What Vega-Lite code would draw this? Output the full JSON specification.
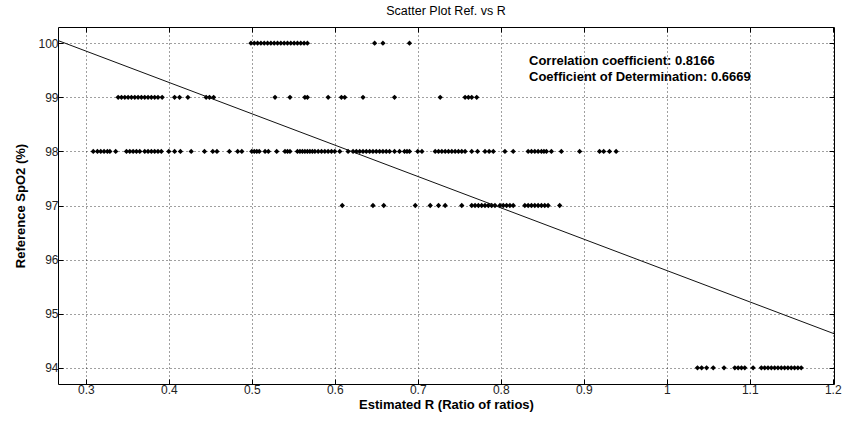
{
  "$schema": "https://vega.github.io/schema/vega-lite/v6.json",
  "width": 776,
  "height": 357,
  "autosize": {"type": "none"},
  "padding": {"left": 58, "top": 27, "right": 9, "bottom": 40},
  "background": "white",
  "title": {
    "text": "Scatter Plot Ref. vs R",
    "fontSize": 12.5,
    "fontWeight": "normal",
    "font": "Liberation Sans",
    "color": "#000",
    "offset": 9,
    "anchor": "middle"
  },
  "config": {
    "view": {"stroke": "#000", "strokeWidth": 1},
    "font": "Liberation Sans"
  },
  "datasets": {
    "points": [
      {"r": 0.499, "spo2": 100}, {"r": 0.503, "spo2": 100}, {"r": 0.507, "spo2": 100}, {"r": 0.511, "spo2": 100},
      {"r": 0.515, "spo2": 100}, {"r": 0.519, "spo2": 100}, {"r": 0.523, "spo2": 100}, {"r": 0.527, "spo2": 100},
      {"r": 0.531, "spo2": 100}, {"r": 0.535, "spo2": 100}, {"r": 0.539, "spo2": 100}, {"r": 0.543, "spo2": 100},
      {"r": 0.547, "spo2": 100}, {"r": 0.551, "spo2": 100}, {"r": 0.555, "spo2": 100}, {"r": 0.559, "spo2": 100},
      {"r": 0.563, "spo2": 100}, {"r": 0.567, "spo2": 100}, {"r": 0.648, "spo2": 100}, {"r": 0.658, "spo2": 100},
      {"r": 0.690, "spo2": 100},

      {"r": 0.339, "spo2": 99}, {"r": 0.343, "spo2": 99}, {"r": 0.347, "spo2": 99}, {"r": 0.351, "spo2": 99},
      {"r": 0.355, "spo2": 99}, {"r": 0.359, "spo2": 99}, {"r": 0.363, "spo2": 99}, {"r": 0.367, "spo2": 99},
      {"r": 0.371, "spo2": 99}, {"r": 0.375, "spo2": 99}, {"r": 0.379, "spo2": 99}, {"r": 0.383, "spo2": 99},
      {"r": 0.387, "spo2": 99}, {"r": 0.392, "spo2": 99}, {"r": 0.407, "spo2": 99}, {"r": 0.413, "spo2": 99},
      {"r": 0.423, "spo2": 99}, {"r": 0.445, "spo2": 99}, {"r": 0.449, "spo2": 99}, {"r": 0.454, "spo2": 99},
      {"r": 0.528, "spo2": 99}, {"r": 0.546, "spo2": 99}, {"r": 0.564, "spo2": 99}, {"r": 0.567, "spo2": 99},
      {"r": 0.592, "spo2": 99}, {"r": 0.608, "spo2": 99}, {"r": 0.612, "spo2": 99}, {"r": 0.634, "spo2": 99},
      {"r": 0.672, "spo2": 99}, {"r": 0.727, "spo2": 99}, {"r": 0.757, "spo2": 99}, {"r": 0.761, "spo2": 99},
      {"r": 0.765, "spo2": 99}, {"r": 0.771, "spo2": 99},

      {"r": 0.309, "spo2": 98}, {"r": 0.314, "spo2": 98}, {"r": 0.318, "spo2": 98}, {"r": 0.322, "spo2": 98},
      {"r": 0.326, "spo2": 98}, {"r": 0.329, "spo2": 98}, {"r": 0.336, "spo2": 98}, {"r": 0.349, "spo2": 98},
      {"r": 0.353, "spo2": 98}, {"r": 0.357, "spo2": 98}, {"r": 0.361, "spo2": 98}, {"r": 0.365, "spo2": 98},
      {"r": 0.371, "spo2": 98}, {"r": 0.375, "spo2": 98}, {"r": 0.379, "spo2": 98}, {"r": 0.383, "spo2": 98},
      {"r": 0.387, "spo2": 98}, {"r": 0.391, "spo2": 98}, {"r": 0.400, "spo2": 98}, {"r": 0.407, "spo2": 98},
      {"r": 0.414, "spo2": 98}, {"r": 0.427, "spo2": 98}, {"r": 0.443, "spo2": 98}, {"r": 0.453, "spo2": 98},
      {"r": 0.458, "spo2": 98}, {"r": 0.473, "spo2": 98}, {"r": 0.483, "spo2": 98}, {"r": 0.488, "spo2": 98},
      {"r": 0.500, "spo2": 98}, {"r": 0.503, "spo2": 98}, {"r": 0.506, "spo2": 98}, {"r": 0.509, "spo2": 98},
      {"r": 0.516, "spo2": 98}, {"r": 0.520, "spo2": 98}, {"r": 0.530, "spo2": 98}, {"r": 0.540, "spo2": 98},
      {"r": 0.543, "spo2": 98}, {"r": 0.546, "spo2": 98}, {"r": 0.555, "spo2": 98}, {"r": 0.558, "spo2": 98},
      {"r": 0.561, "spo2": 98}, {"r": 0.564, "spo2": 98}, {"r": 0.567, "spo2": 98}, {"r": 0.570, "spo2": 98},
      {"r": 0.573, "spo2": 98}, {"r": 0.576, "spo2": 98}, {"r": 0.580, "spo2": 98}, {"r": 0.584, "spo2": 98},
      {"r": 0.588, "spo2": 98}, {"r": 0.592, "spo2": 98}, {"r": 0.596, "spo2": 98}, {"r": 0.600, "spo2": 98},
      {"r": 0.606, "spo2": 98}, {"r": 0.616, "spo2": 98}, {"r": 0.622, "spo2": 98}, {"r": 0.626, "spo2": 98},
      {"r": 0.630, "spo2": 98}, {"r": 0.634, "spo2": 98}, {"r": 0.638, "spo2": 98}, {"r": 0.642, "spo2": 98},
      {"r": 0.646, "spo2": 98}, {"r": 0.650, "spo2": 98}, {"r": 0.654, "spo2": 98}, {"r": 0.658, "spo2": 98},
      {"r": 0.662, "spo2": 98}, {"r": 0.666, "spo2": 98}, {"r": 0.672, "spo2": 98}, {"r": 0.678, "spo2": 98},
      {"r": 0.684, "spo2": 98}, {"r": 0.687, "spo2": 98}, {"r": 0.690, "spo2": 98}, {"r": 0.700, "spo2": 98},
      {"r": 0.705, "spo2": 98}, {"r": 0.721, "spo2": 98}, {"r": 0.725, "spo2": 98}, {"r": 0.729, "spo2": 98},
      {"r": 0.733, "spo2": 98}, {"r": 0.737, "spo2": 98}, {"r": 0.741, "spo2": 98}, {"r": 0.745, "spo2": 98},
      {"r": 0.749, "spo2": 98}, {"r": 0.753, "spo2": 98}, {"r": 0.757, "spo2": 98}, {"r": 0.765, "spo2": 98},
      {"r": 0.772, "spo2": 98}, {"r": 0.781, "spo2": 98}, {"r": 0.786, "spo2": 98}, {"r": 0.791, "spo2": 98},
      {"r": 0.805, "spo2": 98}, {"r": 0.815, "spo2": 98}, {"r": 0.833, "spo2": 98}, {"r": 0.837, "spo2": 98},
      {"r": 0.841, "spo2": 98}, {"r": 0.845, "spo2": 98}, {"r": 0.849, "spo2": 98}, {"r": 0.852, "spo2": 98},
      {"r": 0.855, "spo2": 98}, {"r": 0.861, "spo2": 98}, {"r": 0.873, "spo2": 98}, {"r": 0.895, "spo2": 98},
      {"r": 0.919, "spo2": 98}, {"r": 0.924, "spo2": 98}, {"r": 0.931, "spo2": 98}, {"r": 0.939, "spo2": 98},

      {"r": 0.609, "spo2": 97}, {"r": 0.646, "spo2": 97}, {"r": 0.659, "spo2": 97}, {"r": 0.697, "spo2": 97},
      {"r": 0.715, "spo2": 97}, {"r": 0.725, "spo2": 97}, {"r": 0.733, "spo2": 97}, {"r": 0.753, "spo2": 97},
      {"r": 0.765, "spo2": 97}, {"r": 0.769, "spo2": 97}, {"r": 0.773, "spo2": 97}, {"r": 0.777, "spo2": 97},
      {"r": 0.781, "spo2": 97}, {"r": 0.785, "spo2": 97}, {"r": 0.789, "spo2": 97}, {"r": 0.793, "spo2": 97},
      {"r": 0.799, "spo2": 97}, {"r": 0.803, "spo2": 97}, {"r": 0.807, "spo2": 97}, {"r": 0.811, "spo2": 97},
      {"r": 0.815, "spo2": 97}, {"r": 0.829, "spo2": 97}, {"r": 0.833, "spo2": 97}, {"r": 0.837, "spo2": 97},
      {"r": 0.841, "spo2": 97}, {"r": 0.845, "spo2": 97}, {"r": 0.849, "spo2": 97}, {"r": 0.853, "spo2": 97},
      {"r": 0.857, "spo2": 97}, {"r": 0.871, "spo2": 97},

      {"r": 1.037, "spo2": 94}, {"r": 1.042, "spo2": 94}, {"r": 1.048, "spo2": 94}, {"r": 1.056, "spo2": 94},
      {"r": 1.069, "spo2": 94}, {"r": 1.082, "spo2": 94}, {"r": 1.086, "spo2": 94}, {"r": 1.090, "spo2": 94},
      {"r": 1.094, "spo2": 94}, {"r": 1.104, "spo2": 94}, {"r": 1.114, "spo2": 94}, {"r": 1.118, "spo2": 94},
      {"r": 1.122, "spo2": 94}, {"r": 1.126, "spo2": 94}, {"r": 1.130, "spo2": 94}, {"r": 1.134, "spo2": 94},
      {"r": 1.138, "spo2": 94}, {"r": 1.142, "spo2": 94}, {"r": 1.146, "spo2": 94}, {"r": 1.150, "spo2": 94},
      {"r": 1.154, "spo2": 94}, {"r": 1.158, "spo2": 94}, {"r": 1.162, "spo2": 94}
    ],
    "fit": [
      {"r": 0.2665, "spo2": 100.05},
      {"r": 1.2015, "spo2": 94.63}
    ],
    "notes": [
      {"r": 0.834, "spo2": 99.59, "label": "Correlation coefficient: 0.8166"},
      {"r": 0.834, "spo2": 99.31, "label": "Coefficient of Determination: 0.6669"}
    ]
  },
  "layer": [
    {
      "data": {"name": "points"},
      "mark": {"type": "point", "shape": "diamond", "filled": true, "size": 28, "color": "#000", "opacity": 1},
      "encoding": {
        "x": {
          "field": "r", "type": "quantitative",
          "scale": {"domain": [0.2665, 1.2015], "nice": false, "zero": false},
          "axis": {
            "orient": "bottom",
            "values": [0.3, 0.4, 0.5, 0.6, 0.7, 0.8, 0.9, 1, 1.1, 1.2],
            "format": "~g",
            "title": "Estimated R (Ratio of ratios)",
            "titleFontSize": 13, "titleFontWeight": "bold", "titleColor": "#000", "titlePadding": 3,
            "labelFontSize": 12, "labelColor": "#222", "labelPadding": 5,
            "tickSize": -5, "tickColor": "#000", "domain": false,
            "grid": true, "gridDash": [1, 3], "gridColor": "#000", "gridOpacity": 0.75
          }
        },
        "y": {
          "field": "spo2", "type": "quantitative",
          "scale": {"domain": [93.7, 100.3], "nice": false, "zero": false},
          "axis": {
            "orient": "left",
            "values": [94, 95, 96, 97, 98, 99, 100],
            "title": "Reference SpO2 (%)",
            "titleFontSize": 13, "titleFontWeight": "bold", "titleColor": "#000", "titlePadding": 10,
            "labelFontSize": 12, "labelColor": "#222", "labelPadding": 5,
            "tickSize": -5, "tickColor": "#000", "domain": false,
            "grid": true, "gridDash": [1, 3], "gridColor": "#000", "gridOpacity": 0.75
          }
        }
      }
    },
    {
      "data": {"name": "fit"},
      "mark": {"type": "line", "color": "#111", "strokeWidth": 1, "clip": true},
      "encoding": {
        "x": {
          "field": "r", "type": "quantitative",
          "axis": {"orient": "top", "values": [0.3, 0.4, 0.5, 0.6, 0.7, 0.8, 0.9, 1, 1.1, 1.2], "labels": false, "title": null, "tickSize": -5, "tickColor": "#000", "domain": false, "grid": false}
        },
        "y": {
          "field": "spo2", "type": "quantitative",
          "axis": {"orient": "right", "values": [94, 95, 96, 97, 98, 99, 100], "labels": false, "title": null, "tickSize": -5, "tickColor": "#000", "domain": false, "grid": false}
        }
      }
    },
    {
      "data": {"name": "notes"},
      "mark": {"type": "text", "align": "left", "baseline": "alphabetic", "fontWeight": "bold", "fontSize": 13, "font": "Liberation Sans", "color": "#000"},
      "encoding": {
        "x": {"field": "r", "type": "quantitative", "axis": null},
        "y": {"field": "spo2", "type": "quantitative", "axis": null},
        "text": {"field": "label"}
      }
    }
  ],
  "resolve": {"axis": {"x": "independent", "y": "independent"}}
}
